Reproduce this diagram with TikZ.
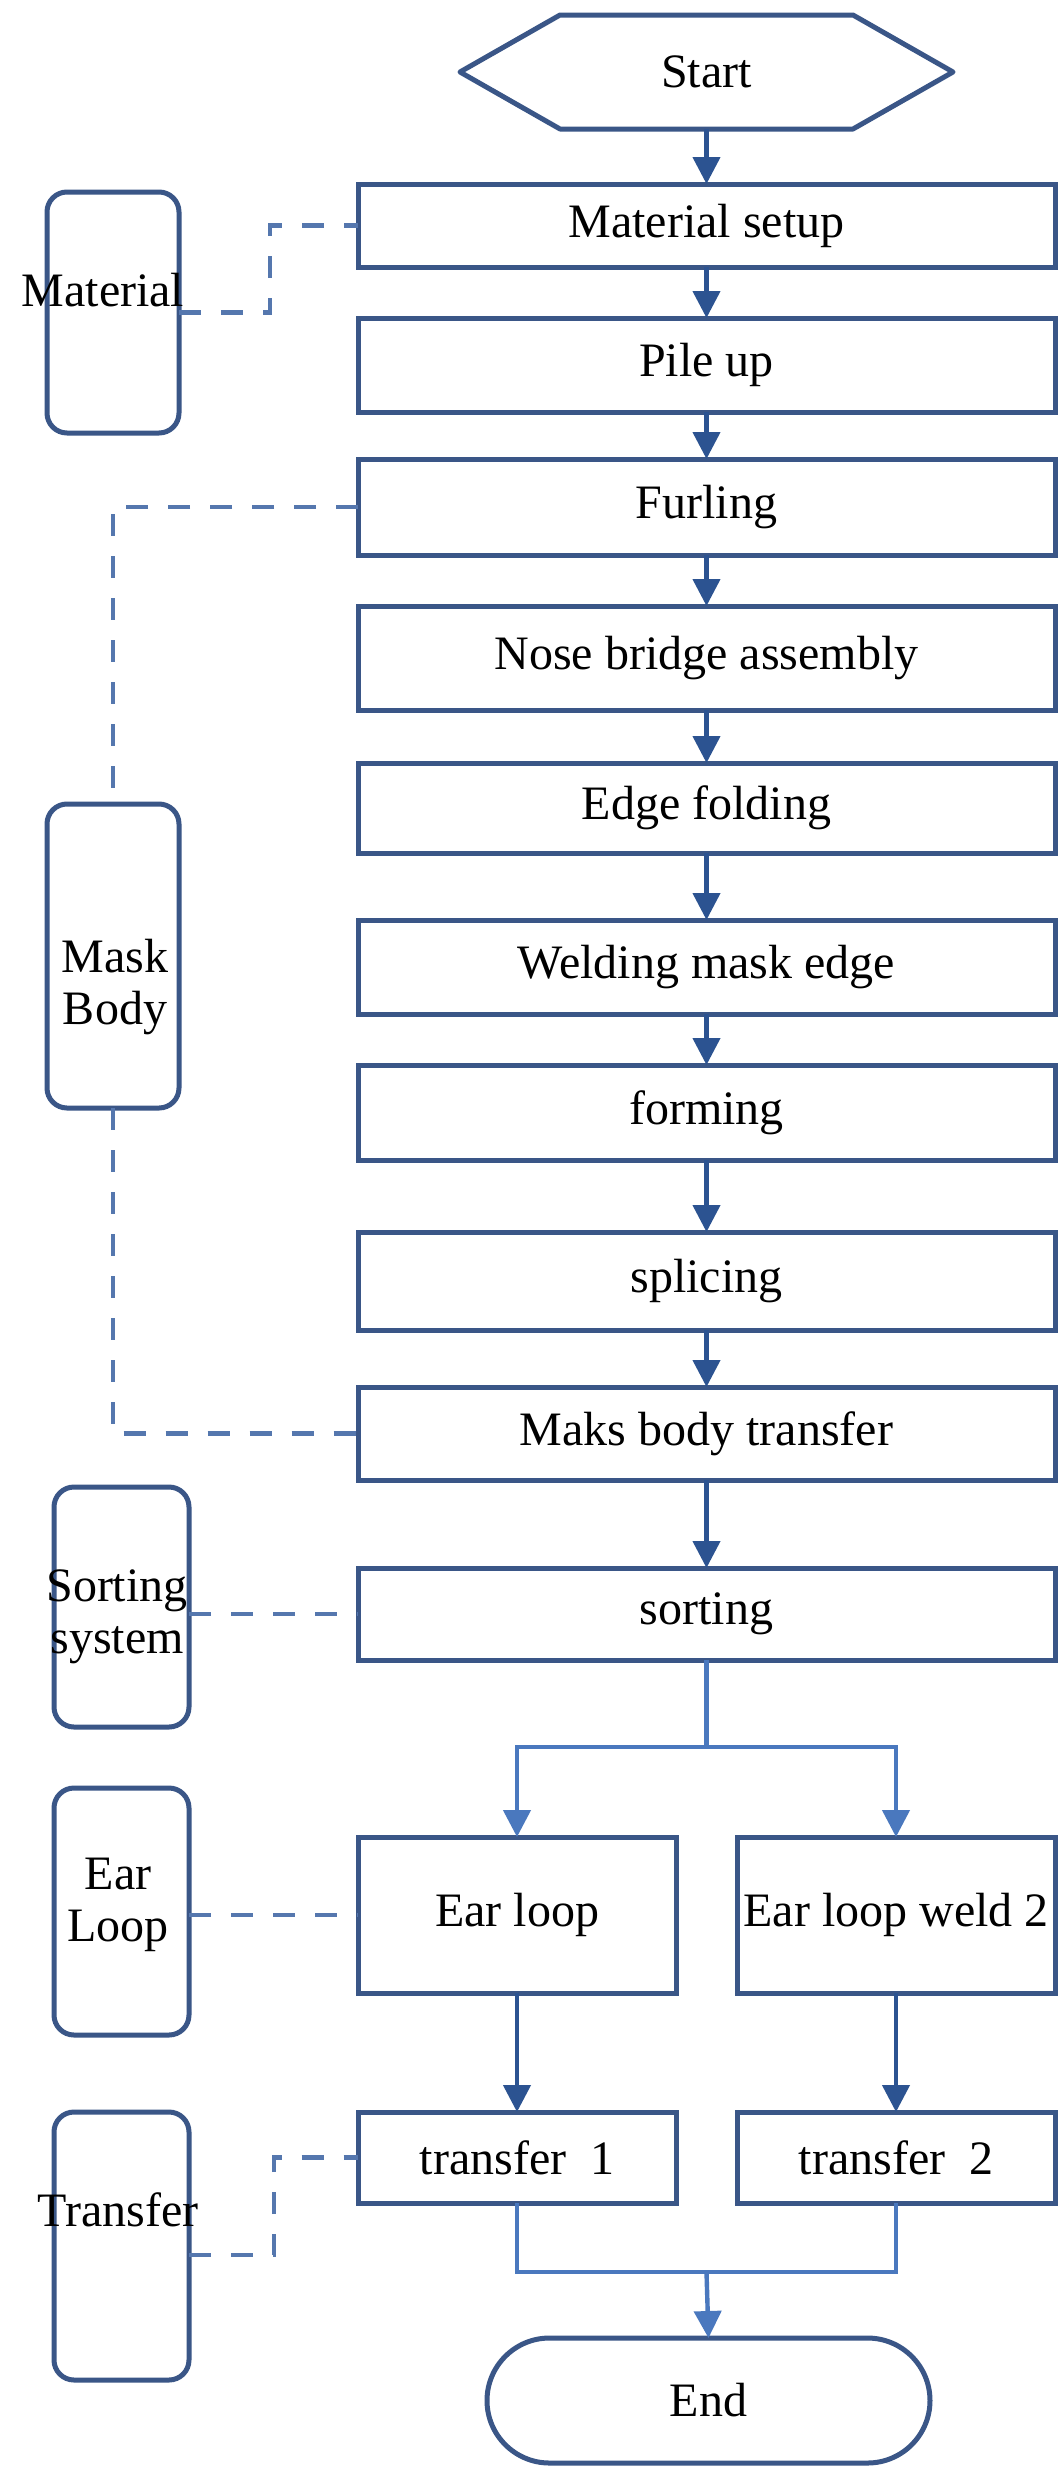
\documentclass[tikz,border=0pt]{standalone}
\usepackage{fontspec}
\setmainfont{Liberation Serif}
\usetikzlibrary{arrows.meta,shapes.misc,calc}
\definecolor{boxcol}{RGB}{58,86,135}
\definecolor{arrcol}{RGB}{44,83,145}
\definecolor{lightcol}{RGB}{74,120,190}
\definecolor{dashcol}{RGB}{85,119,174}
\begin{document}
\begin{tikzpicture}[x=0.5pt,y=-0.5pt,
  every node/.style={font=\fontsize{24pt}{26pt}\selectfont, inner sep=0pt, outer sep=0pt},
  mainbox/.style={draw=boxcol, line width=2.5pt, rectangle, minimum width=348.5pt},
  halfbox/.style={draw=boxcol, line width=2.5pt, rectangle, minimum width=159pt},
  sidebox/.style={draw=boxcol, line width=2.5pt, rectangle, rounded corners=10pt},
  boxline/.style={draw=boxcol, line width=2.5pt, line join=round},
  arr/.style={draw=arrcol, line width=2.2pt, -{Triangle[width=13.5pt,length=13.5pt]}},
  lightline/.style={draw=lightcol, line width=2.2pt},
  lightarr/.style={draw=lightcol, line width=2.2pt, -{Triangle[width=13.5pt,length=13.5pt]}},
  dashline/.style={draw=dashcol, line width=2.2pt, dash pattern=on 11pt off 10pt}
]
\fill[white] (0,0) rectangle (1060,2468);
\useasboundingbox (0,0) rectangle (1060,2468);

% start hexagon
\node[minimum width=246.5pt, minimum height=57pt] (start) at (706.5,72) {Start};
\draw[boxline] (start.west) -- ($(start.north west)+(100,0)$) -- ($(start.north east)+(-100,0)$) -- (start.east) -- ($(start.south east)+(-100,0)$) -- ($(start.south west)+(100,0)$) -- cycle;

% main column
\node[mainbox, minimum height=41.5pt] (setup) at (706.5,225.5) {Material setup};
\node[mainbox, minimum height=47pt] (pileup) at (706.5,365) {Pile up};
\node[mainbox, minimum height=48pt] (furling) at (706.5,507) {Furling};
\node[mainbox, minimum height=52pt] (nose) at (706.5,658) {Nose bridge assembly};
\node[mainbox, minimum height=45pt] (edge) at (706.5,808) {Edge folding};
\node[mainbox, minimum height=47pt] (weld) at (706.5,967) {Welding mask edge};
\node[mainbox, minimum height=47.5pt] (forming) at (706.5,1112.5) {forming};
\node[mainbox, minimum height=49pt] (splicing) at (706.5,1281) {splicing};
\node[mainbox, minimum height=46.5pt] (maks) at (706.5,1433.5) {Maks body transfer};
\node[mainbox, minimum height=46pt] (sorting) at (706.5,1614) {sorting};

\node[halfbox, minimum height=78pt] (earloop) at (517,1915) {Ear loop};
\node[halfbox, minimum height=78pt] (earweld) at (896,1915) {Ear loop weld 2};
\node[halfbox, minimum height=45.5pt] (tr1) at (517,2157.5) {transfer\ \ 1};
\node[halfbox, minimum height=45.5pt] (tr2) at (896,2157.5) {transfer\ \ 2};

\node[draw=boxcol, line width=2.5pt, rounded rectangle, minimum width=221.5pt, minimum height=62.5pt] (end) at (708.5,2400.5) {End};

% side boxes
\node[sidebox, minimum width=66pt, minimum height=120.5pt] (material) at (113,312.5) {};
\node[sidebox, minimum width=66pt, minimum height=152pt] (maskbody) at (113,956) {};
\node[sidebox, minimum width=67.5pt, minimum height=120pt] (sortsys) at (121.5,1607) {};
\node[sidebox, minimum width=67.5pt, minimum height=123.5pt] (earside) at (121.5,1911.5) {};
\node[sidebox, minimum width=67.5pt, minimum height=134pt] (transide) at (121.5,2246) {};

\node (materialtxt) at (103,290) {Material};
\node[align=center] (masktxt) at (115,987) {Mask\\Body};
\node[align=center] (sorttxt) at (117,1617) {Sorting\\system};
\node[align=center] (eartxt) at (118,1905) {Ear\\Loop};
\node (transtxt) at (118,2210) {Transfer};

% main arrows
\foreach \a/\b in {start/setup, setup/pileup, pileup/furling, furling/nose, nose/edge, edge/weld, weld/forming, forming/splicing, splicing/maks, maks/sorting, earloop/tr1, earweld/tr2}
  \draw[arr] (\a.south) -- (\b.north);

% branch
\coordinate (split) at (706.5,1747);
\draw[lightline] (sorting.south) -- (split);
\draw[lightarr] (split) -| (earloop.north);
\draw[lightarr] (split) -| (earweld.north);

% merge
\coordinate (merge) at (706.5,2272);
\draw[lightline] (tr1.south) |- (merge) -| (tr2.south);
\draw[lightarr] (merge) -- (end.north);

% dashed connectors
\draw[dashline] (material.east) -- ++(91,0) |- (setup.west);
\draw[dashline] (furling.west) -| (maskbody.north);
\draw[dashline] (maskbody.south) |- (maks.west);
\draw[dashline] (sortsys.east |- sorting.west) -- (sorting.west);
\draw[dashline] (earside.east |- earloop.west) -- (earloop.west);
\coordinate (tdash) at ($(transide.east)+(0,9)$);
\draw[dashline] (tdash) -- ++(85,0) |- (tr1.west);
\end{tikzpicture}
\end{document}
